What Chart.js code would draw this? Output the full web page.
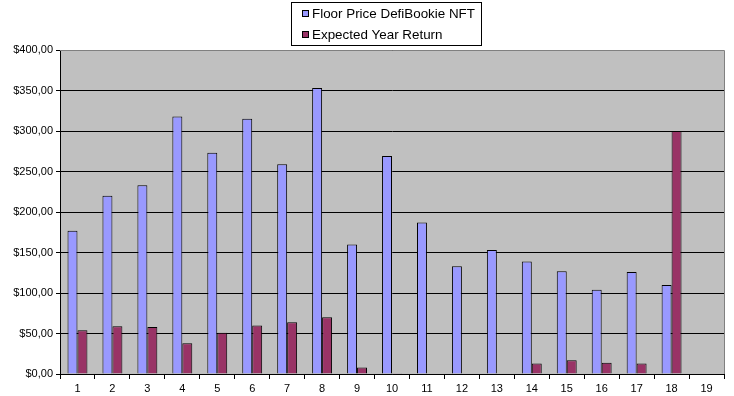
<!DOCTYPE html>
<html>
<head>
<meta charset="utf-8">
<script src="https://cdn.jsdelivr.net/npm/chart.js@4/dist/chart.umd.min.js"></script>
<style>
  html, body { margin: 0; padding: 0; background: #ffffff; }
  #wrap { width: 734px; height: 396px; position: relative; }
</style>
</head>
<body>
<div id="wrap"><canvas id="c" width="734" height="396"></canvas></div>
<script>
const categories = ['1','2','3','4','5','6','7','8','9','10','11','12','13','14','15','16','17','18','19'];
const floorPrice = [177, 220, 233, 318, 273, 315, 259, 353, 160, 269, 187, 133, 153, 139, 127, 104, 126, 110, null];
const yearReturn = [54, 59, 58, 38, 51, 60, 64, 70, 8, 1, null, null, null, 13, 17, 14, 13, 300, null];
const seriesNames = ['Floor Price DefiBookie NFT', 'Expected Year Return'];
const seriesColors = ['#9999FF', '#993366'];

const FONT = 'Liberation Sans, Arial, sans-serif';

const plotBg = {
  id: 'plotBg',
  beforeDraw(chart) {
    const {ctx, chartArea: a} = chart;
    ctx.save();
    ctx.fillStyle = '#C0C0C0';
    ctx.fillRect(a.left, a.top, a.right - a.left, a.bottom - a.top);
    ctx.restore();
  },
  afterDatasetsDraw(chart) {
    const {ctx, chartArea: a} = chart;
    ctx.save();
    ctx.strokeStyle = '#808080';
    ctx.lineWidth = 1;
    ctx.beginPath();
    ctx.moveTo(Math.round(a.left) , Math.round(a.top) + 0.5);
    ctx.lineTo(Math.round(a.right) + 0.5, Math.round(a.top) + 0.5);
    ctx.lineTo(Math.round(a.right) + 0.5, Math.round(a.bottom));
    ctx.stroke();
    ctx.restore();
  }
};

const boxLegend = {
  id: 'boxLegend',
  afterDraw(chart) {
    const ctx = chart.ctx;
    ctx.save();
    ctx.fillStyle = '#ffffff';
    ctx.fillRect(291, 2, 190, 43);
    ctx.strokeStyle = '#000000';
    ctx.lineWidth = 1;
    ctx.strokeRect(291.5, 2.5, 190, 43);
    ctx.font = '13.4px ' + FONT;
    ctx.textBaseline = 'middle';
    ctx.textAlign = 'left';
    const rows = [13, 34];
    chart.data.datasets.forEach((ds, i) => {
      const y = rows[i];
      ctx.fillStyle = ds.backgroundColor;
      ctx.fillRect(302, y - 3, 7, 7);
      ctx.strokeStyle = '#000';
      ctx.strokeRect(302.5, y - 2.5, 6, 6);
      ctx.fillStyle = '#000';
      ctx.fillText(ds.label, 312, y + 1);
    });
    ctx.restore();
  }
};

new Chart(document.getElementById('c'), {
  type: 'bar',
  data: {
    labels: categories,
    datasets: [
      { label: seriesNames[0], data: floorPrice, backgroundColor: seriesColors[0], borderColor: '#000', borderWidth: 1, borderSkipped: 'bottom' },
      { label: seriesNames[1], data: yearReturn, backgroundColor: seriesColors[1], borderColor: '#000', borderWidth: 1, borderSkipped: 'bottom' }
    ]
  },
  options: {
    responsive: false,
    animation: false,
    categoryPercentage: 0.57,
    barPercentage: 1.0,
    layout: { padding: { top: 50, right: 10, left: 0, bottom: 0 } },
    plugins: {
      legend: { display: false },
      tooltip: { enabled: false }
    },
    scales: {
      x: {
        grid: { display: true, drawOnChartArea: false, drawTicks: true, tickLength: 5, color: '#000', offset: true },
        border: { display: true, color: '#000', width: 1 },
        ticks: { color: '#000', font: { family: FONT, size: 11 }, padding: 3, maxRotation: 0, autoSkip: false },
        afterFit(scale) { scale.height = 22; }
      },
      y: {
        min: 0, max: 400,
        ticks: {
          stepSize: 50, color: '#000', font: { family: FONT, size: 11 }, padding: 3,
          callback: v => '$' + Number(v).toFixed(2).replace('.', ',')
        },
        grid: { color: '#000', lineWidth: 1, tickLength: 4, drawTicks: true },
        border: { display: true, color: '#000', width: 1 },
        afterFit(scale) { scale.width = 60; }
      }
    }
  },
  plugins: [plotBg, boxLegend]
});
</script>
</body>
</html>
